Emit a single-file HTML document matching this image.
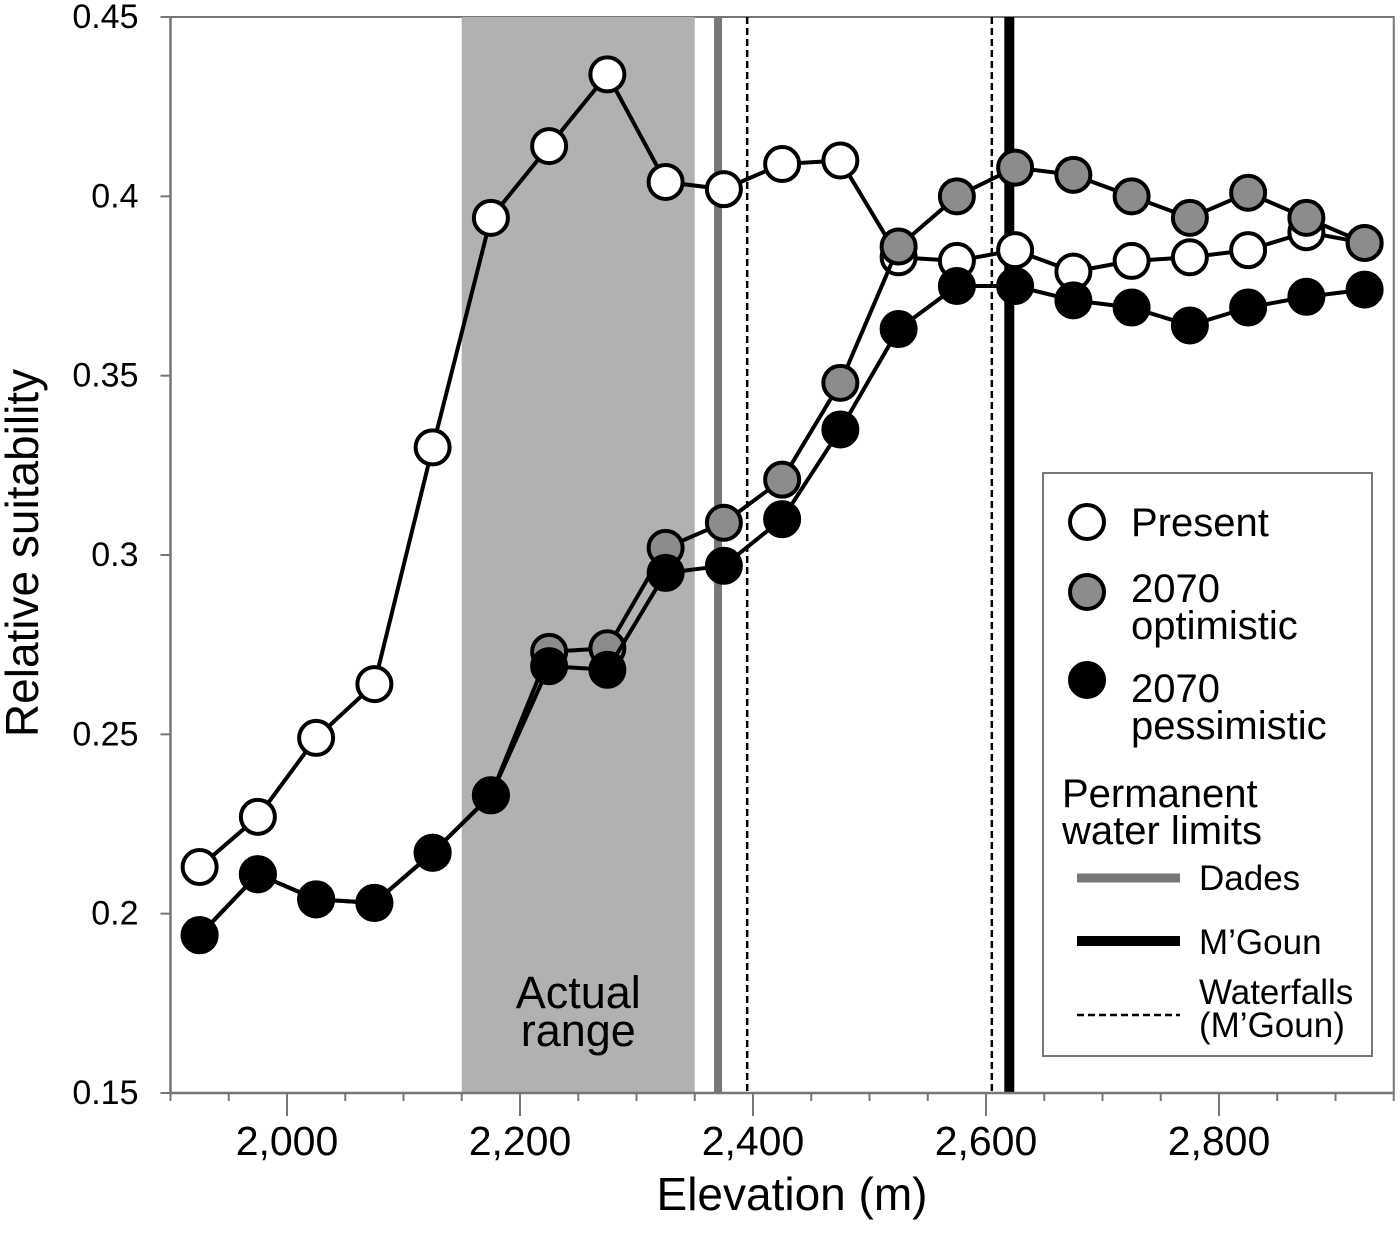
<!DOCTYPE html>
<html><head><meta charset="utf-8"><style>
body{margin:0;background:#fff}
svg text{font-family:"Liberation Sans",Arial,sans-serif;fill:#000}
</style></head><body>
<svg width="1400" height="1229" viewBox="0 0 1400 1229">
<g id="bg"></g><g id="axes"></g><g id="series"></g><g id="legend"></g>
</svg>
<script>
const elevations=[1925,1975,2025,2075,2125,2175,2225,2275,2325,2375,2425,2475,2525,2575,2625,2675,2725,2775,2825,2875,2925];
const present=[0.213,0.227,0.249,0.264,0.330,0.394,0.414,0.434,0.404,0.402,0.409,0.410,0.383,0.382,0.385,0.379,0.382,0.383,0.385,0.390,0.387];
const optimistic=[0.194,0.211,0.204,0.203,0.217,0.233,0.273,0.274,0.302,0.309,0.321,0.348,0.386,0.400,0.408,0.406,0.400,0.394,0.401,0.394,0.387];
const pessimistic=[0.194,0.211,0.204,0.203,0.217,0.233,0.269,0.268,0.295,0.297,0.310,0.335,0.363,0.375,0.375,0.371,0.369,0.364,0.369,0.372,0.374];
const yTicks=[0.15,0.2,0.25,0.3,0.35,0.4,0.45];
const yTickLabels=["0.15","0.2","0.25","0.3","0.35","0.4","0.45"];
const xTicks=[2000,2200,2400,2600,2800];
const xTickLabels=["2,000","2,200","2,400","2,600","2,800"];
const actualRange=[2150,2350];
const dadesLimit=2370, mgounLimit=2620, waterfalls=[2395,2605];

const NS="http://www.w3.org/2000/svg";
const X=v=>170.5+(v-1900)*233/200;
const Y=v=>1093-(v-0.15)*1076/0.3;
function mk(parent,tag,attrs,name,text){const e=document.createElementNS(NS,tag);for(const k in attrs)e.setAttribute(k,attrs[k]);


if(text!==undefined)e.textContent=text;document.getElementById(parent).appendChild(e);return e;}
const L=X(1900),R=X(2950),T=Y(0.45),B=Y(0.15);
mk('bg','rect',{x:L,y:T,width:R-L,height:B-T,fill:'#fff',stroke:'#777','stroke-width':2},'plot-frame');
mk('bg','rect',{x:X(actualRange[0]),y:T,width:X(actualRange[1])-X(actualRange[0]),height:B-T,fill:'#b1b1b1'},'actual-range-band');
mk('bg','text',{x:(X(actualRange[0])+X(actualRange[1]))/2,y:1008,'font-size':45,'text-anchor':'middle'},'actual-range-label','Actual');
mk('bg','text',{x:(X(actualRange[0])+X(actualRange[1]))/2,y:1046,'font-size':45,'text-anchor':'middle'},'actual-range-label-2','range');
mk('bg','line',{x1:X(dadesLimit),x2:X(dadesLimit),y1:T,y2:B,stroke:'#777','stroke-width':8},'dades-limit-line');
mk('bg','line',{x1:X(mgounLimit),x2:X(mgounLimit),y1:T,y2:B,stroke:'#000','stroke-width':10},'mgoun-limit-line');
waterfalls.forEach((w,i)=>mk('bg','line',{x1:X(w),x2:X(w),y1:T,y2:B,stroke:'#000','stroke-width':2.5,'stroke-dasharray':'7,4'},'waterfall-line-'+i));
mk('axes','line',{x1:L,x2:R,y1:B,y2:B,stroke:'#777','stroke-width':2.5},'x-axis');
mk('axes','line',{x1:L,x2:L,y1:T,y2:B,stroke:'#777','stroke-width':2.5},'y-axis');
for(let v=1900;v<=2950;v+=50){const maj=v%200===0;mk('axes','line',{x1:X(v),x2:X(v),y1:B,y2:B+(maj?23:8),stroke:'#777','stroke-width':2},'x-tick');}
xTicks.forEach((v,i)=>mk('axes','text',{x:X(v),y:1155,'font-size':41,'text-anchor':'middle'},'x-tick-label',xTickLabels[i]));
yTicks.forEach((v,i)=>{mk('axes','line',{x1:L-10,x2:L,y1:Y(v),y2:Y(v),stroke:'#777','stroke-width':2},'y-tick');
mk('axes','text',{x:L-32,y:Y(v)+11,'font-size':34,'text-anchor':'end'},'y-tick-label',yTickLabels[i]);});
mk('axes','text',{x:792,y:1210,'font-size':46,'text-anchor':'middle'},'x-axis-title','Elevation (m)');
mk('axes','text',{x:0,y:0,'font-size':46,'text-anchor':'middle',transform:'translate(38,553) rotate(-90)'},'y-axis-title','Relative suitability');
function series(vals,fill,name){
 const pts=elevations.map((e,i)=>X(e)+','+Y(vals[i])).join(' ');
 mk('series','polyline',{points:pts,fill:'none',stroke:'#000','stroke-width':4},name+'-line');
 elevations.forEach((e,i)=>mk('series','circle',{cx:X(e),cy:Y(vals[i]),r:17,fill:fill,stroke:'#000','stroke-width':4},name+'-point'));
}
series(present,'#fff','present');
series(optimistic,'#8c8c8c','optimistic');
series(pessimistic,'#000','pessimistic');
mk('legend','rect',{x:1043,y:473,width:329,height:583,fill:'#fff',stroke:'#777','stroke-width':2},'legend-box');
mk('legend','circle',{cx:1087,cy:522,r:17,fill:'#fff',stroke:'#000','stroke-width':4},'legend-present-marker');
mk('legend','text',{x:1131,y:536,'font-size':40},'legend-present-label','Present');
mk('legend','circle',{cx:1087,cy:592,r:17,fill:'#8c8c8c',stroke:'#000','stroke-width':4},'legend-optimistic-marker');
mk('legend','text',{x:1131,y:602,'font-size':40},'legend-optimistic-label','2070');
mk('legend','text',{x:1131,y:639,'font-size':40},'legend-optimistic-label-2','optimistic');
mk('legend','circle',{cx:1087,cy:680,r:17,fill:'#000',stroke:'#000','stroke-width':4},'legend-pessimistic-marker');
mk('legend','text',{x:1131,y:702,'font-size':40},'legend-pessimistic-label','2070');
mk('legend','text',{x:1131,y:739,'font-size':40},'legend-pessimistic-label-2','pessimistic');
mk('legend','text',{x:1062,y:807,'font-size':40},'legend-water-title','Permanent');
mk('legend','text',{x:1062,y:844,'font-size':40},'legend-water-title-2','water limits');
mk('legend','line',{x1:1077,x2:1180,y1:878,y2:878,stroke:'#777','stroke-width':9},'legend-dades-line');
mk('legend','text',{x:1199,y:890,'font-size':35},'legend-dades-label','Dades');
mk('legend','line',{x1:1077,x2:1180,y1:941,y2:941,stroke:'#000','stroke-width':10},'legend-mgoun-line');
mk('legend','text',{x:1199,y:954,'font-size':35},'legend-mgoun-label','M’Goun');
mk('legend','line',{x1:1077,x2:1180,y1:1015,y2:1015,stroke:'#000','stroke-width':2.5,'stroke-dasharray':'7,4'},'legend-waterfalls-line');
mk('legend','text',{x:1199,y:1004,'font-size':35},'legend-waterfalls-label','Waterfalls');
mk('legend','text',{x:1199,y:1037,'font-size':35},'legend-waterfalls-label-2','(M’Goun)');
</script>
</body></html>
